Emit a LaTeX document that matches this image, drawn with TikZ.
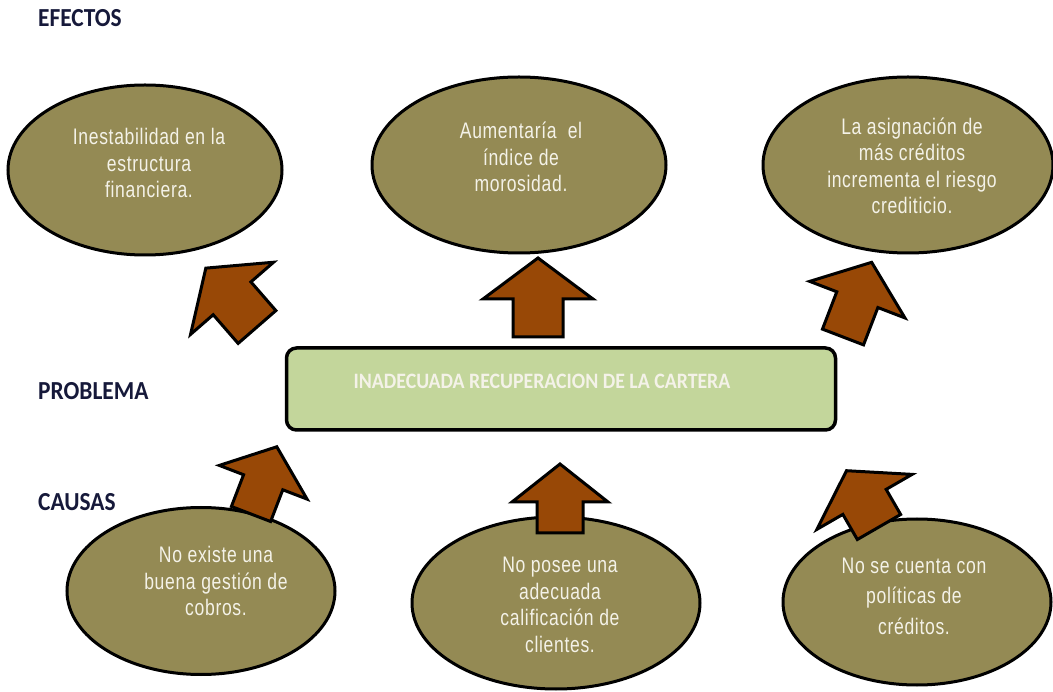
\documentclass[tikz,border=0pt]{standalone}
\usepackage{fontspec}
\setmainfont{Liberation Sans}
\newfontfamily\lblfont[FakeStretch=0.9]{Carlito}
\newfontfamily\ellfont[FakeStretch=0.78,LetterSpace=3]{Liberation Sans}
\usetikzlibrary{shapes.geometric}
\definecolor{efolive}{HTML}{948A54}
\definecolor{efcream}{HTML}{F4F2E8}
\definecolor{eflgreen}{HTML}{C3D69B}
\definecolor{efbrown}{HTML}{984806}
\definecolor{efnavy}{HTML}{16193A}
\tikzset{
  ell/.style={ellipse, draw=black, line width=3pt, fill=efolive, inner sep=0pt},
  etxt/.style={text=efcream, font=\ellfont\fontsize{22.5}{26.5}\selectfont, align=center, inner sep=0pt},
  lbl/.style={anchor=west, text=efnavy, font=\lblfont\bfseries\fontsize{26}{30}\selectfont, inner sep=0pt},
  arrowstyle/.style={draw=black, line width=3pt, fill=efbrown, line join=miter},
  pics/barrow/.style args={#1/#2/#3/#4}{code={
    \draw[arrowstyle] (-#4,0) -- (-#4,-#1+#2) -- (-#3,-#1+#2) -- (0,-#1)
      -- (#3,-#1+#2) -- (#4,-#1+#2) -- (#4,0) -- cycle;
  }}
}
\begin{document}
\begin{tikzpicture}[x=1pt,y=-1pt]
\useasboundingbox (0,0) rectangle (1053,692);

% section labels
\node[lbl] (lefe) at (38,18) {EFECTOS};
\node[lbl] (lpro) at (38,391) {PROBLEMA};
\node[lbl] (lcau) at (38,502) {CAUSAS};

% effects
\node[ell, minimum width=274pt, minimum height=170pt] (e1) at (145,170) {};
\node[ell, minimum width=294pt, minimum height=176pt] (e2) at (519,165) {};
\node[ell, minimum width=290pt, minimum height=176pt] (e3) at (908,165) {};
\node[etxt] (t1) at (149,163) {Inestabilidad en la\\estructura\\financiera.};
\node[etxt] (t2) at (521,157) {Aumentaría\ \ el\\índice de\\morosidad.};
\node[etxt] (t3) at (912,166) {La asignación de\\más créditos\\incrementa el riesgo\\crediticio.};

% problem
\node[draw=black, line width=3.5pt, rounded corners=10pt, fill=eflgreen,
      minimum width=549pt, minimum height=82pt] (prob) at (561,389) {};
\node[text=efcream, font=\lblfont\bfseries\fontsize{22}{26}\selectfont, inner sep=0pt]
      (ptxt) at (542,381) {INADECUADA RECUPERACION DE LA CARTERA};

% causes
\node[ell, minimum width=268pt, minimum height=167pt] (c1) at (201,591) {};
\node[ell, minimum width=288pt, minimum height=172pt] (c2) at (556,603) {};
\node[ell, minimum width=268pt, minimum height=166pt] (c3) at (917,602) {};
\node[etxt] (u1) at (216,581) {No existe una\\buena gestión de\\cobros.};
\node[etxt] (u2) at (560,605) {No posee una\\adecuada\\calificación de\\clientes.};
\node[etxt, font=\ellfont\fontsize{22.5}{30.5}\selectfont] (u3) at (914,596) {No se cuenta con\\políticas de\\créditos.};

% block arrows
\pic[rotate=41] (a1) at (257,327) {barrow=78/40/55/25};
\pic (a2) at (538,337) {barrow=79/41/55/25};
\pic[rotate=-21] (a3) at (843,337) {barrow=80/40/51/22};
\pic[rotate=-21] (a4) at (251,514) {barrow=72/38/47/21};
\pic (a5) at (560,533) {barrow=69/38/48/23};
\pic[rotate=30] (a6) at (879,527) {barrow=65/36/55/25};
\end{tikzpicture}
\end{document}
